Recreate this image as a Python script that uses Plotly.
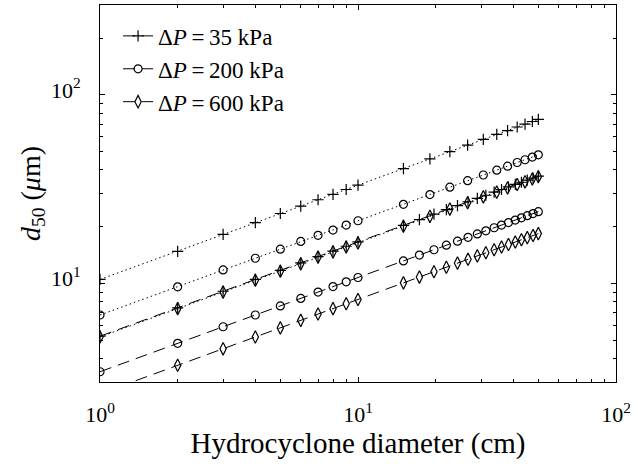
import plotly.graph_objects as go
import math

# Hydrocyclone diameters (cm)
d_dot = [1, 2, 3, 4, 5, 6, 7, 8, 9, 10, 15, 19, 22.7, 26.6, 30.6, 34.5, 38, 41.4, 44.4, 47.4, 50]
d_dash = [1, 2, 3, 4, 5, 6, 7, 8, 9, 10, 15, 17.3, 19.7, 22, 24.3, 26.7, 29, 31.3, 33.7, 36,
          38.3, 40.7, 43, 45.3, 47.7, 50]

# d50 (um), dotted model
p35_dot = [10.5, 14.8, 18.2, 21.0, 23.5, 25.7, 27.8, 29.7, 31.5, 33.2, 40.7, 45.8, 50.0, 54.2, 58.1,
           61.7, 64.7, 67.6, 70.0, 72.3, 74.2]
p200_dot = [6.8, 9.6, 11.8, 13.6, 15.2, 16.7, 18.0, 19.2, 20.4, 21.5, 26.3, 29.6, 32.4, 35.1, 37.6,
            39.9, 41.9, 43.8, 45.3, 46.8, 48.1]
p600_dot = [5.2, 7.35, 9.0, 10.4, 11.6, 12.7, 13.8, 14.7, 15.6, 16.4, 20.1, 22.7, 24.8, 26.8, 28.8,
            30.5, 32.1, 33.5, 34.6, 35.8, 36.8]

# d50 (um), dashed model
p35_dash = [5.25, 7.42, 9.09, 10.5, 11.74, 12.86, 13.89, 14.85, 15.75, 16.6, 20.33, 21.83, 23.30,
            24.62, 25.88, 27.13, 28.27, 29.37, 30.48, 31.5, 32.49, 33.5, 34.42, 35.34, 36.26, 37.12]
p200_dash = [3.4, 4.81, 5.89, 6.8, 7.6, 8.33, 9.0, 9.62, 10.2, 10.75, 13.17, 14.14, 15.09, 15.95,
             16.76, 17.57, 18.31, 19.02, 19.74, 20.4, 21.04, 21.69, 22.29, 22.89, 23.48, 24.04]
p600_dash = [2.6, 3.68, 4.5, 5.2, 5.81, 6.37, 6.88, 7.35, 7.8, 8.22, 10.07, 10.81, 11.54, 12.19,
             12.82, 13.43, 14.0, 14.55, 15.09, 15.6, 16.09, 16.59, 17.05, 17.5, 17.96, 18.38]

labels = ["Δ<i>P</i>\u2009=\u200935 kPa", "Δ<i>P</i>\u2009=\u2009200 kPa", "Δ<i>P</i>\u2009=\u2009600 kPa"]
symbols = ["cross-thin-open", "circle-open", "diamond-tall-open"]
sizes = [8, 8, 9]

FONT = "Liberation Serif"
fig = go.Figure()

dash_sets = [p35_dash, p200_dash, p600_dash]
dot_sets = [p35_dot, p200_dot, p600_dot]

for i in range(3):
    fig.add_trace(go.Scatter(
        x=d_dash, y=dash_sets[i], mode="lines+markers", name=labels[i],
        line=dict(color="black", width=1, dash="12px,7px"),
        marker=dict(symbol=symbols[i], size=sizes[i], color="black",
                    line=dict(color="black", width=1.2)),
    ))
for i in range(3):
    fig.add_trace(go.Scatter(
        x=d_dot, y=dot_sets[i], mode="lines+markers", showlegend=False,
        line=dict(color="black", width=1, dash="1.5px,3px"),
        marker=dict(symbol=symbols[i], size=sizes[i], color="black",
                    line=dict(color="black", width=1.2)),
    ))

x_minor = [v * m for v in (1, 10) for m in range(2, 10)]
y_minor = [v * m for v in (1, 10, 100) for m in range(2, 10) if 3 <= v * m <= 300]

axis_common = dict(
    type="log", showgrid=False, zeroline=False, showline=True, linecolor="black",
    linewidth=1, mirror="ticks", ticks="inside", ticklen=5, tickcolor="black",
    tickfont=dict(family=FONT, size=22, color="black"),
    ticklabeloverflow="allow", automargin=False,
)

fig.update_xaxes(
    **axis_common,
    range=[0, 2],
    tickvals=[1, 10, 100], ticktext=["10<sup>0</sup>", "10<sup>1</sup>", "10<sup>2</sup>"],
    minor=dict(tickvals=x_minor, ticks="inside", ticklen=3, tickcolor="black"),
    ticklabelstandoff=13,
    title=dict(text="Hydrocyclone diameter (cm)", font=dict(family=FONT, size=29, color="black"),
               standoff=0),
)
fig.update_yaxes(
    **axis_common,
    range=[math.log10(3), math.log10(300)],
    tickvals=[10, 100], ticktext=["10<sup>1</sup>", "10<sup>2</sup>"],
    minor=dict(tickvals=y_minor, ticks="inside", ticklen=3, tickcolor="black"),
    ticklabelstandoff=14, ticklabelshift=-5,
    title=dict(text="<i>d</i><sub>50</sub> (<i>μ</i>m)", font=dict(family=FONT, size=28, color="black"),
               standoff=2),
)

fig.update_layout(
    width=638, height=472,
    margin=dict(l=100, r=22, t=5, b=90),
    plot_bgcolor="white", paper_bgcolor="white",
    showlegend=True,
    legend=dict(x=0.035, y=0.975, xanchor="left", yanchor="top", bgcolor="rgba(0,0,0,0)",
                font=dict(family=FONT, size=23, color="black"), itemwidth=30,
                tracegroupgap=0),
)

fig.write_html("out.html")
